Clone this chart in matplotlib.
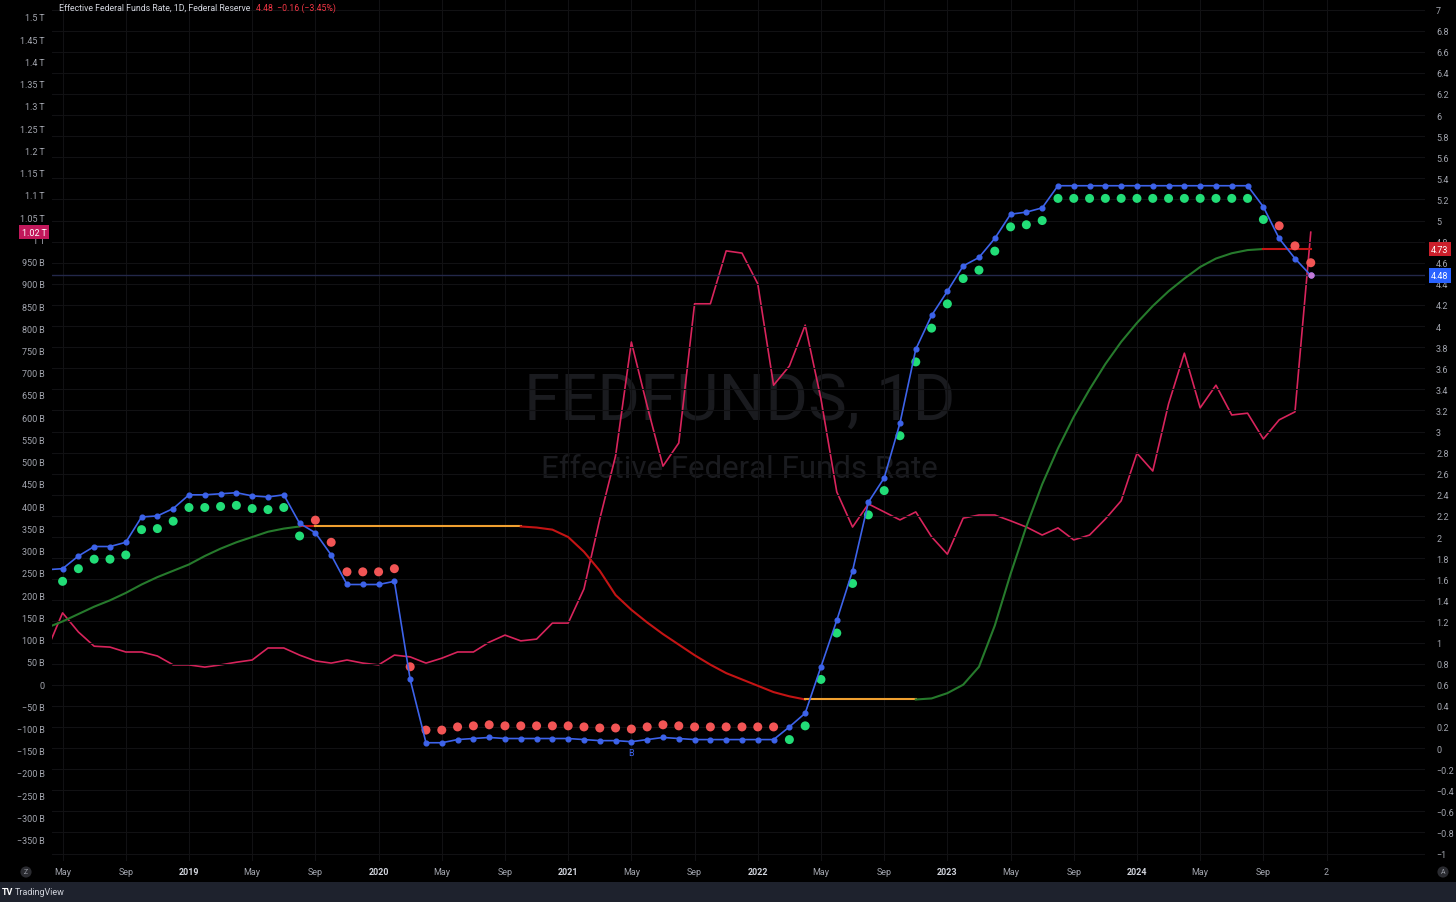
import matplotlib
matplotlib.use("Agg")
import matplotlib.pyplot as plt
import matplotlib.transforms as mtransforms
from matplotlib.patches import Rectangle

plt.rcParams['font.family'] = ['Roboto', 'DejaVu Sans']

# month index counted from Jan 2018 = 0 ; series run Apr 2018 .. Dec 2024
months = list(range(3, 84))

# effective federal funds rate, % (right scale)
fedfunds = [
    1.69, 1.70, 1.82, 1.91, 1.91, 1.95, 2.19, 2.20, 2.27,
    2.40, 2.40, 2.41, 2.42, 2.39, 2.38, 2.40, 2.13, 2.04, 1.83, 1.55, 1.55,
    1.55, 1.58, 0.65, 0.05, 0.05, 0.08, 0.09, 0.10, 0.09, 0.09, 0.09, 0.09,
    0.09, 0.08, 0.07, 0.07, 0.06, 0.08, 0.10, 0.09, 0.08, 0.08, 0.08, 0.08,
    0.08, 0.08, 0.20, 0.33, 0.77, 1.21, 1.68, 2.33, 2.56, 3.08, 3.78, 4.10,
    4.33, 4.57, 4.65, 4.83, 5.06, 5.08, 5.12, 5.33, 5.33, 5.33, 5.33, 5.33,
    5.33, 5.33, 5.33, 5.33, 5.33, 5.33, 5.33, 5.33, 5.13, 4.83, 4.64, 4.48,
]

# pink series, billions (left scale)
liquidity_b = [
    76, 160, 117, 85, 83, 72, 72, 63, 43,
    43, 38, 43, 49, 54, 81, 81, 65, 52, 47, 54, 47,
    43, 65, 61, 47, 58, 72, 72, 94, 110, 97, 101, 137,
    137, 214, 371, 513, 769, 625, 490, 542, 855, 855, 974, 969,
    900, 672, 715, 807, 641, 432, 353, 405, 387, 369, 387, 331,
    292, 373, 380, 380, 367, 353, 335, 351, 324, 335, 371, 412,
    519, 479, 630, 744, 621, 672, 605, 609, 551, 594, 612, 1016,
]

# smoothed average line, % (right scale)
ma_rate = [
    1.14, 1.20, 1.27, 1.34, 1.40, 1.47, 1.55, 1.62, 1.68,
    1.74, 1.82, 1.89, 1.95, 2.00, 2.05, 2.08, 2.10,
    2.10, 2.10, 2.10, 2.10, 2.10, 2.10, 2.10, 2.10, 2.10, 2.10, 2.10, 2.10, 2.10, 2.10,
    2.09, 2.07, 2.00, 1.86, 1.68, 1.45, 1.31, 1.19, 1.08, 0.98, 0.88, 0.79,
    0.71, 0.65, 0.59, 0.53, 0.49, 0.46,
    0.46, 0.46, 0.46, 0.46, 0.46, 0.46, 0.46,
    0.47, 0.52, 0.60, 0.77, 1.16, 1.65, 2.10, 2.50, 2.84, 3.14, 3.40,
    3.64, 3.85, 4.03, 4.19, 4.33, 4.45, 4.56, 4.64, 4.69, 4.72, 4.73,
    4.73, 4.73, 4.73,
]
# trend of each segment of the average: u = up, d = down, f = flat
ma_trend = "u" * 16 + "d" + "f" * 13 + "d" * 18 + "f" * 7 + "u" * 22 + "d" * 3

# signal dots May 2018 .. Dec 2024 (right scale)
dot_months = list(range(4, 84))
dot_values = [
    1.58, 1.70, 1.79, 1.79, 1.83, 2.07, 2.08, 2.15,
    2.28, 2.28, 2.29, 2.30, 2.27, 2.26, 2.28, 2.01,
    2.16, 1.95, 1.67, 1.67, 1.67, 1.70, 0.77, 0.17, 0.17, 0.20, 0.21, 0.22,
    0.21, 0.21, 0.21, 0.21, 0.21, 0.20, 0.19, 0.19, 0.18, 0.20, 0.22, 0.21,
    0.20, 0.20, 0.20, 0.20, 0.20, 0.20,
    0.08, 0.21, 0.65, 1.09, 1.56, 2.21, 2.44, 2.96, 3.66, 3.98,
    4.21, 4.45, 4.53, 4.71, 4.94, 4.96, 5.00, 5.21, 5.21, 5.21, 5.21, 5.21,
    5.21, 5.21, 5.21, 5.21, 5.21, 5.21, 5.21, 5.21, 5.01,
    4.95, 4.76, 4.60,
]
dot_signal = "b" * 16 + "s" * 30 + "b" * 31 + "s" * 3

x_tick_months = list(range(4, 85, 4))
x_tick_labels = ["May", "Sep", "2019", "May", "Sep", "2020", "May", "Sep", "2021",
                 "May", "Sep", "2022", "May", "Sep", "2023", "May", "Sep", "2024",
                 "May", "Sep", "2"]

BG = "#000000"
TXT = "#a3a6af"
BLUE = "#3d63ea"
PINK = "#d8245c"
trend_colors = {"u": "#267a2c", "d": "#c41414", "f": "#f0a030"}
signal_colors = {"b": "#22dd77", "s": "#f25555"}

fig = plt.figure(figsize=(14.56, 9.03), dpi=100, facecolor=BG)
ax = fig.add_axes([52 / 1456, 41 / 903, 1373 / 1456, 862 / 903])
ax.set_facecolor(BG)
ax2 = ax.twinx()

ax.set_xlim(3.33, 90.23)
ax.set_ylim(-398, 1540.4)
ax2.set_ylim(-1.071, 7.100)

for a in (ax, ax2):
    for s in a.spines.values():
        s.set_visible(False)

# grid
ax.set_xticks(x_tick_months)
ax.set_xticklabels(x_tick_labels)
ax.grid(axis="x", color="#111113", lw=0.8)
right_ticks = [round(-1 + 0.2 * i, 1) for i in range(41)]
ax2.set_yticks(right_ticks)
ax2.set_yticklabels([f"{v:g}".replace("-", "\u2212") for v in right_ticks])
ax2.grid(axis="y", color="#111113", lw=0.8)
ax2.set_axisbelow(True)


def fmt_left(v):
    if v == 0:
        return "0"
    sign = "\u2212" if v < 0 else ""
    a = abs(v)
    if a >= 1000:
        return f"{sign}{a / 1000:g}\u2009T"
    return f"{sign}{a:g}\u2009B"


left_ticks = list(range(-350, 1501, 50))
ax.set_yticks(left_ticks)
ax.set_yticklabels([fmt_left(v) for v in left_ticks])

ax.tick_params(axis="y", length=0, pad=5, labelsize=6.5, labelcolor=TXT)
ax.tick_params(axis="x", length=0, pad=4, labelsize=6.5, labelcolor=TXT)
ax2.tick_params(axis="y", length=0, pad=8, labelsize=6.5, labelcolor=TXT)
for lbl in ax.get_xticklabels():
    if lbl.get_text().isdigit() and len(lbl.get_text()) == 4:
        lbl.set_fontweight("bold")
        lbl.set_color("#d1d4dc")

# watermark
ax.text(0.501, 0.534, "FEDFUNDS, 1D", transform=ax.transAxes, ha="center", va="center",
        fontsize=47, color="#1a1b1f", zorder=0.5)
ax.text(0.501, 0.455, "Effective Federal Funds Rate", transform=ax.transAxes, ha="center",
        va="center", fontsize=22.5, color="#1a1b1f", zorder=0.5)

# pink line on the left scale
ax.plot(months, liquidity_b, color=PINK, lw=1.2, zorder=2)

# average line, coloured by trend
start = 0
for i in range(1, len(ma_trend) + 1):
    if i == len(ma_trend) or ma_trend[i] != ma_trend[start]:
        ax2.plot(months[start:i + 1], ma_rate[start:i + 1],
                 color=trend_colors[ma_trend[start]], lw=1.5, zorder=2)
        start = i

# last price line
ax2.axhline(fedfunds[-1], color="#23284a", lw=1.0, zorder=1)

# fed funds line with markers
ax2.plot(months, fedfunds, color=BLUE, lw=1.2, marker="o", ms=3.4, zorder=4)
ax2.plot(months[-1], fedfunds[-1], "o", color="#c47ad8", ms=3.6, zorder=5)

# signal dots
ax2.scatter(dot_months, dot_values, s=42, c=[signal_colors[s] for s in dot_signal],
            edgecolors="none", zorder=3)

ax2.annotate("B", xy=(40, fedfunds[months.index(40)]), xytext=(0, -7.5),
             textcoords="offset points", ha="center", va="center", color=BLUE, fontsize=6.5)

# scale labels
tr_r = mtransforms.blended_transform_factory(ax2.transAxes, ax2.transData)
ax2.text(1.0109, ma_rate[-1], f"{ma_rate[-1]:.2f}", transform=tr_r, ha="center", va="center",
         color="white", fontsize=6.5, clip_on=False, zorder=6,
         bbox=dict(boxstyle="square,pad=0.3", fc="#cc1f2b", ec="none"))
ax2.text(1.0109, fedfunds[-1], f"{fedfunds[-1]:.2f}", transform=tr_r, ha="center", va="center",
         color="white", fontsize=6.5, clip_on=False, zorder=6,
         bbox=dict(boxstyle="square,pad=0.3", fc="#2962ff", ec="none"))
tr_l = mtransforms.blended_transform_factory(ax.transAxes, ax.transData)
ax.text(-0.0131, liquidity_b[-1], f"{liquidity_b[-1] / 1000:.2f}\u2009T", transform=tr_l,
        ha="center", va="center", color="white", fontsize=6.5, clip_on=False, zorder=6,
        bbox=dict(boxstyle="square,pad=0.3", fc="#c2185b", ec="none"))

# header
fig.text(59 / 1456, 1 - 8 / 903, "Effective Federal Funds Rate, 1D, Federal Reserve",
         ha="left", va="center", fontsize=6.3, color="#d1d4dc")
fig.text(256 / 1456, 1 - 8 / 903, "4.48  \u22120.16 (\u22123.45%)",
         ha="left", va="center", fontsize=6.3, color="#f23645")

# footer
fig.patches.append(Rectangle((0, 0), 1, 20 / 903, transform=fig.transFigure,
                             fc="#1e222d", ec="none", zorder=0))
fig.text(2 / 1456, 10 / 903, "TV", ha="left", va="center", fontsize=6.5,
         fontweight="bold", color="white")
fig.text(15 / 1456, 10 / 903, "TradingView", ha="left", va="center", fontsize=6.5,
         color="#d1d4dc")
for xp, ch in ((26, "Z"), (1443, "A")):
    fig.text(xp / 1456, 30 / 903, ch, ha="center", va="center", fontsize=5, color="#9598a1",
             bbox=dict(boxstyle="circle,pad=0.3", fc="#2a2b30", ec="none"))

fig.savefig("out.png", dpi=100, facecolor=BG)
